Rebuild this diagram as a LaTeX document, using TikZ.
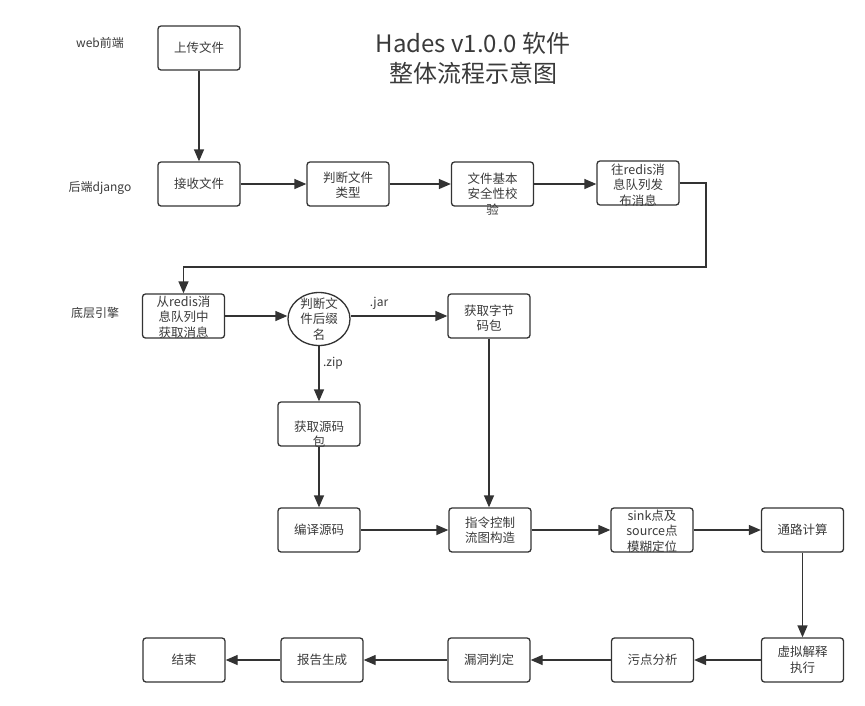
\documentclass[tikz,border=0pt]{standalone}
\usepackage{fontspec}
\setmainfont{Noto Sans CJK SC}
\usetikzlibrary{arrows.meta,shapes.geometric}
\definecolor{ln}{HTML}{333333}
\definecolor{tx}{HTML}{3A3A3A}
\tikzset{
  x=1pt, y=-1pt,
  procbox/.style={draw=ln, line width=1.3pt, rounded corners=3pt, minimum width=82pt, minimum height=44pt, inner sep=0pt},
  decis/.style={draw=ln, line width=1.3pt, ellipse, minimum width=62pt, minimum height=53pt, inner sep=0pt},
  txt/.style={font=\fontsize{12.5}{15.5}\selectfont, align=center, text=tx, inner sep=0pt},
  lane/.style={font=\fontsize{12}{15}\selectfont, text=tx, inner sep=0pt},
  ttl/.style={font=\fontsize{24}{30}\selectfont, align=center, text=tx, inner sep=0pt},
  arr/.style={draw=ln, line width=1.3pt, -{Triangle[length=12pt,width=10pt]}},
  edgelbl/.style={font=\fontsize{12}{15}\selectfont, text=tx, inner sep=0pt}
}
\begin{document}
\begin{tikzpicture}
\useasboundingbox (0,0) rectangle (865,705);

% title
\node[ttl] (title) at (473,58) {Hades v1.0.0 软件\\整体流程示意图};

% lane labels
\node[lane] (l1) at (100,43) {web前端};
\node[lane] (l2) at (100,188) {后端django};
\node[lane] (l3) at (95,313) {底层引擎};

% boxes
\node[procbox] (up) at (199,48) {};
\node[procbox] (rec) at (199,184) {};
\node[procbox] (type) at (348,184) {};
\node[procbox] (safe) at (492.5,184) {};
\node[procbox] (pub) at (638,183) {};
\node[procbox] (get) at (183.5,316) {};
\node[decis] (sfx) at (319,319) {};
\node[procbox] (jar) at (489,316) {};
\node[procbox] (src) at (319,424) {};
\node[procbox] (comp) at (319,530) {};
\node[procbox] (cfg) at (490,530) {};
\node[procbox] (sink) at (652,530) {};
\node[procbox] (path) at (802.5,530) {};
\node[procbox] (vm) at (802.5,660) {};
\node[procbox] (taint) at (652.5,660) {};
\node[procbox] (vuln) at (489,660) {};
\node[procbox] (rep) at (322,660) {};
\node[procbox] (fin) at (184,660) {};

% texts
\node[txt] (t-up) at (up.center) {上传文件};
\node[txt] (t-rec) at (rec.center) {接收文件};
\node[txt] (t-type) at ([yshift=-1pt]type.center) {判断文件\\类型};
\node[txt] (t-safe) at ([yshift=-10pt]safe.center) {文件基本\\安全性校\\验};
\node[txt] (t-pub) at ([yshift=-2pt]pub.center) {往redis消\\息队列发\\布消息};
\node[txt] (t-get) at ([yshift=-1pt]get.center) {从redis消\\息队列中\\获取消息};
\node[txt] (t-sfx) at (sfx.center) {判断文\\件后缀\\名};
\node[txt] (t-jar) at ([yshift=-2pt]jar.center) {获取字节\\码包};
\node[txt] (t-src) at ([yshift=-10pt]src.center) {获取源码\\包};
\node[txt] (t-comp) at (comp.center) {编译源码};
\node[txt] (t-cfg) at (cfg.center) {指令控制\\流图构造};
\node[txt] (t-sink) at ([yshift=-1pt]sink.center) {sink点及\\source点\\模糊定位};
\node[txt] (t-path) at (path.center) {通路计算};
\node[txt] (t-vm) at (vm.center) {虚拟解释\\执行};
\node[txt] (t-taint) at (taint.center) {污点分析};
\node[txt] (t-vuln) at (vuln.center) {漏洞判定};
\node[txt] (t-rep) at (rep.center) {报告生成};
\node[txt] (t-fin) at (fin.center) {结束};

% connectors
\coordinate (c1) at (706,267);
\draw[arr] (up) -- (rec);
\draw[arr] (rec) -- (type);
\draw[arr] (type) -- (safe);
\draw[arr] (safe.east) -- (pub.west |- safe.east);
\draw[arr] (pub.east) -| (c1) -| (get.north);
\draw[arr] (get) -- (sfx.west |- get.east);
\draw[arr] (sfx.east |- jar.west) -- (jar.west);
\draw[arr] (sfx) -- (src);
\draw[arr] (src) -- (comp);
\draw[arr] (jar) -- (cfg.north -| jar.south);
\draw[arr] (comp) -- (cfg);
\draw[arr] (cfg) -- (sink);
\draw[arr] (sink) -- (path);
\draw[arr] (path) -- (vm);
\draw[arr] (vm) -- (taint);
\draw[arr] (taint) -- (vuln);
\draw[arr] (vuln) -- (rep);
\draw[arr] (rep) -- (fin);

% edge labels
\node[edgelbl] (ljar) at (379,303) {.jar};
\node[edgelbl] (lzip) at (333,363) {.zip};
\end{tikzpicture}
\end{document}
